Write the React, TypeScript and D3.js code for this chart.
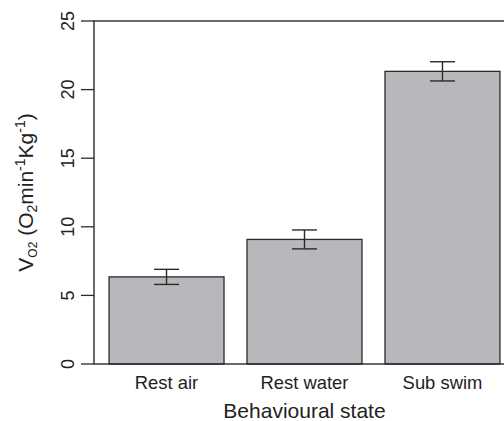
import React from 'react';
import * as d3 from 'd3';

// values
const categories = ['Rest air', 'Rest water', 'Sub swim'];
const means = [6.35, 9.08, 21.33];
const errors = [0.55, 0.69, 0.7];
const yTicks = [0, 5, 10, 15, 20, 25];

const W = 504;
const H = 421;
const plot = { left: 94, top: 21, right: 515, bottom: 364 };
const FONT = '"Liberation Sans", Arial, Helvetica, sans-serif';
const INK = '#2b2b2b';

export default function App() {
  const x = d3.scaleBand<string>()
    .domain(categories)
    .range([plot.left, plot.right])
    .paddingInner(0.1667)
    .paddingOuter(0.109);

  const y = d3.scaleLinear().domain([0, 25]).range([plot.bottom, plot.top]);

  const bw = x.bandwidth();
  const capHalf = 12.5;
  const midY = (plot.top + plot.bottom) / 2;

  return (
    <svg width={W} height={H} style={{ position: 'absolute', left: 0, top: 0, background: '#fff' }}
      fontFamily={FONT}>
      {/* bars */}
      {categories.map((c, i) => (
        <rect key={c} x={x(c)!} y={y(means[i])} width={bw} height={y(0) - y(means[i])}
          fill="#b8b8bc" stroke={INK} strokeWidth={1.3} />
      ))}

      {/* error bars */}
      {categories.map((c, i) => {
        const cx = x(c)! + bw / 2;
        const hi = y(means[i] + errors[i]);
        const lo = y(means[i] - errors[i]);
        return (
          <g key={c + '-err'} stroke={INK} strokeWidth={1.4}>
            <line x1={cx} x2={cx} y1={hi} y2={lo} />
            <line x1={cx - capHalf} x2={cx + capHalf} y1={hi} y2={hi} />
            <line x1={cx - capHalf} x2={cx + capHalf} y1={lo} y2={lo} />
          </g>
        );
      })}

      {/* box */}
      <rect x={plot.left} y={plot.top} width={plot.right - plot.left} height={plot.bottom - plot.top}
        fill="none" stroke={INK} strokeWidth={1.4} />

      {/* y ticks */}
      {yTicks.map(t => (
        <g key={t}>
          <line x1={plot.left - 13} x2={plot.left} y1={y(t)} y2={y(t)} stroke={INK} strokeWidth={1.3} />
          <text transform={`translate(74, ${y(t)}) rotate(-90)`} textAnchor="middle"
            fontSize={18} fill="#222">{t}</text>
        </g>
      ))}

      {/* x labels */}
      {categories.map(c => (
        <text key={c + '-lab'} x={x(c)! + bw / 2} y={389} textAnchor="middle" fontSize={18.4} fill="#222">{c}</text>
      ))}

      <text x={(plot.left + plot.right) / 2} y={418} textAnchor="middle" fontSize={21} fill="#222">
        Behavioural state
      </text>

      <text transform={`translate(33, ${midY}) rotate(-90)`} textAnchor="middle" fontSize={21} fill="#222">
        <tspan>V</tspan>
        <tspan fontSize={12} dy={4}>O2</tspan>
        <tspan dy={-4}> (O</tspan>
        <tspan fontSize={14} dy={4}>2</tspan>
        <tspan dy={-4}>min</tspan>
        <tspan fontSize={14} dy={-8}>-1</tspan>
        <tspan dy={8}>Kg</tspan>
        <tspan fontSize={14} dy={-8}>-1</tspan>
        <tspan dy={8}>)</tspan>
      </text>
    </svg>
  );
}
